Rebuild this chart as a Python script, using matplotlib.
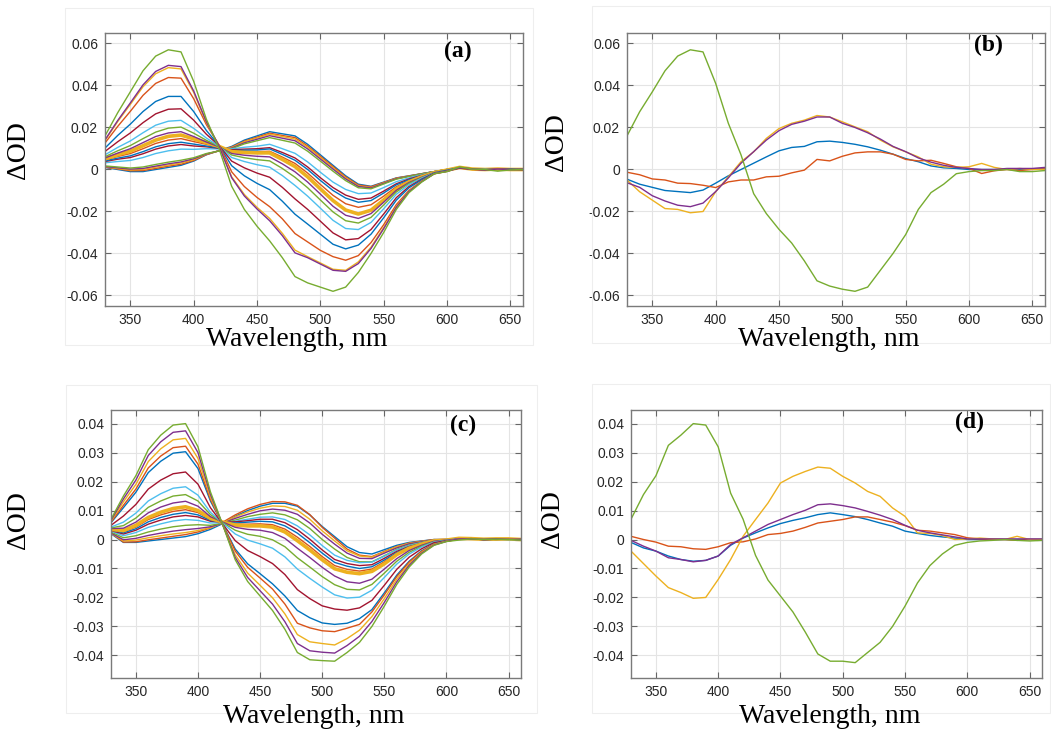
import numpy as np
import matplotlib
matplotlib.use("Agg")
from matplotlib import pyplot as plt
from matplotlib.patches import Rectangle

plt.rcParams['axes.unicode_minus'] = False

# wavelength grid, nm
wavelength = [330, 340, 350, 360, 370, 380, 390, 400, 410, 420, 430, 440, 450, 460, 470, 480, 490,
              500, 510, 520, 530, 540, 550, 560, 570, 580, 590, 600, 610, 620, 630, 640, 650, 660]

# MATLAB default colour order
colors = ['#0072BD', '#D95319', '#EDB120', '#7E2F8E', '#77AC30', '#4DBEEE', '#A2142F']

# ---- panel (a), dOD in units of 1e-3 ----
a01 = [1, 0, -1, -1, 0, 1, 2, 4, 7, 9, 11, 14, 16, 18, 17, 16, 12, 7, 2, -3, -7, -8, -6, -4, -3, -2, -1, 0, 0.6, 0.2, 0, 0.3, -0.2, 0]
a02 = [1.1, 0.3, -0.6, -0.5, 0.5, 1.6, 2.5, 4.3, 7.1, 8.9, 10.7, 13.5, 15.4, 17.3, 16.2, 15.2, 11.2, 6.3, 1.4, -3.5, -7.4, -8.2, -6.2, -4.1, -3.1, -2.0, -1.0, 0, 0.8, 0.1, -0.2, 0.2, 0, -0.1]
a03 = [1.3, 0.5, -0.2, 0.0, 1.1, 2.1, 3.1, 4.7, 7.3, 8.9, 10.5, 13.2, 15.0, 16.8, 15.7, 14.5, 10.6, 5.7, 0.8, -4.0, -7.8, -8.6, -6.4, -4.3, -3.1, -2.1, -1.0, 0, 1.0, 0.3, 0, 0.1, 0.2, 0]
a04 = [1.4, 0.8, 0.2, 0.5, 1.6, 2.7, 3.6, 5.1, 7.4, 8.9, 10.2, 12.7, 14.4, 16.1, 14.9, 13.7, 9.8, 5.0, 0.2, -4.5, -8.1, -8.8, -6.6, -4.4, -3.2, -2.1, -1.0, 0, 0.7, 0, 0.2, -0.1, 0.1, 0.2]
a05 = [1.7, 1.2, 0.7, 1.2, 2.4, 3.5, 4.4, 5.6, 7.6, 8.8, 9.9, 12.2, 13.7, 15.2, 13.9, 12.6, 8.7, 4.0, -0.8, -5.3, -8.7, -9.2, -6.9, -4.6, -3.3, -2.1, -1.0, 0, 1.2, 0.2, -0.3, 0, -0.2, 0]
a06 = [3.2, 3.8, 4.3, 5.7, 7.6, 8.9, 9.7, 9.6, 9.9, 9.8, 9.8, 10.6, 11.1, 12.0, 9.9, 7.7, 3.6, -1.3, -6.0, -9.5, -11.5, -11.2, -8.6, -5.8, -4.0, -2.5, -1.1, -0.1, 0.9, 0.3, 0, 0.2, -0.1, 0.1]
a07 = [3.8, 4.9, 5.7, 7.5, 9.7, 11.2, 11.9, 11.2, 10.8, 10.1, 9.4, 9.7, 9.9, 10.4, 8.1, 5.5, 1.2, -3.9, -8.6, -12.2, -14.2, -13.6, -10.3, -6.8, -4.5, -2.8, -1.2, -0.2, 0.8, 0.2, -0.2, 0.3, 0, -0.2]
a08 = [4.1, 5.4, 6.5, 8.5, 10.8, 12.3, 13.0, 12.1, 11.2, 10.3, 9.0, 9.2, 9.3, 9.8, 7.2, 4.4, 0.0, -5.2, -10.0, -13.6, -15.6, -14.8, -11.2, -7.3, -4.9, -3.0, -1.3, -0.2, 0.7, 0.1, 0.1, 0.2, -0.1, 0]
a09 = [4.6, 6.2, 7.6, 9.9, 12.4, 14.0, 14.7, 13.3, 12.0, 10.6, 8.8, 8.6, 8.5, 8.7, 5.9, 2.9, -1.7, -7.1, -12.3, -16.3, -18.0, -16.8, -12.7, -8.2, -5.4, -3.3, -1.4, -0.2, 0.9, 0.3, -0.1, 0.1, 0.1, -0.1]
a10 = [5.1, 7.0, 8.7, 11.3, 14.0, 15.8, 16.4, 14.6, 12.8, 11.0, 8.5, 8.1, 7.9, 7.9, 4.8, 1.4, -3.5, -9.2, -14.8, -19.3, -21.2, -19.4, -14.5, -9.3, -5.9, -3.5, -1.5, -0.3, 1.0, 0.2, 0, 0.2, 0, 0]
a11 = [5.5, 7.8, 9.9, 12.8, 15.7, 17.4, 18.0, 15.7, 13.1, 10.8, 7.6, 6.8, 6.3, 6.0, 2.7, -1.1, -6.0, -11.7, -17.5, -21.8, -23.3, -21.0, -15.6, -9.9, -6.2, -3.7, -1.5, -0.3, 0.8, 0.1, -0.2, 0.2, -0.1, 0.1]
a12 = [6.1, 8.9, 11.4, 14.7, 17.8, 19.7, 20.2, 17.3, 13.9, 11.0, 6.9, 5.6, 4.7, 4.1, 0.5, -3.7, -8.7, -14.5, -20.2, -24.4, -25.5, -22.8, -16.9, -10.7, -6.6, -3.9, -1.6, -0.3, 1.1, 0.3, 0, -0.1, 0.2, 0]
a13 = [7.0, 10.5, 13.6, 17.5, 21.1, 23.0, 23.4, 19.6, 15.0, 11.1, 5.7, 3.8, 2.3, 1.1, -2.9, -7.6, -12.7, -18.4, -24.2, -28.1, -28.6, -25.2, -18.7, -11.8, -7.2, -4.1, -1.6, -0.4, 0.9, 0.2, 0.1, 0.2, -0.2, 0]
a14 = [8.6, 13.2, 17.4, 22.3, 26.5, 28.7, 28.9, 23.5, 16.8, 11.4, 4.0, 0.8, -1.7, -3.7, -8.5, -14.0, -19.0, -24.6, -30.2, -33.5, -32.9, -28.6, -21.2, -13.4, -8.1, -4.6, -1.7, -0.5, 0.7, 0.1, -0.1, 0.3, 0, -0.2]
a15 = [10.2, 16.2, 21.6, 27.6, 32.4, 34.8, 34.8, 27.6, 18.6, 11.4, 1.8, -3.0, -6.6, -9.6, -15.1, -21.3, -26.0, -30.8, -35.6, -37.8, -36.0, -30.8, -23.0, -14.6, -8.7, -4.9, -1.8, -0.6, 1.0, 0.2, 0, 0.1, 0.1, 0]
a16 = [12.6, 20.5, 27.7, 35.3, 41.0, 43.8, 43.5, 33.7, 21.4, 11.7, -1.1, -8.1, -13.3, -17.7, -23.5, -30.5, -34.5, -38.5, -41.5, -43.2, -41.0, -34.8, -26.3, -16.7, -9.9, -5.5, -2.0, -0.8, 0.9, 0.3, -0.1, 0.2, -0.1, 0]
a17 = [13.8, 22.8, 31.0, 39.4, 45.6, 48.5, 47.9, 36.7, 22.4, 11.2, -3.5, -11.9, -18.0, -23.3, -30.4, -38.4, -41.5, -44.5, -47.5, -48.0, -44.0, -37.0, -27.7, -17.6, -10.3, -5.7, -2.0, -0.9, 1.1, 0.2, 0, 0.1, -0.1, 0]
a18 = [14.1, 23.3, 31.7, 40.3, 46.7, 49.6, 49.0, 37.4, 22.8, 11.2, -3.9, -12.6, -18.8, -24.4, -31.5, -39.7, -42.0, -45.0, -48.0, -48.5, -44.8, -37.6, -28.2, -18.0, -10.5, -5.8, -2.0, -0.9, 0.8, 0.3, -0.2, 0.2, 0, 0.1]
a19 = [16, 27, 37, 47, 54, 57, 56, 42, 24, 10, -8, -19, -27, -34, -42, -51, -54, -56, -58, -56, -49, -40, -30, -19, -11, -6, -2, -1, 1.2, 0.2, 0, -0.8, -0.2, 0]

# ---- panel (b) ----
b_blue = [-4.6, -7, -8.5, -10, -10.5, -11, -9.8, -6.5, -3, 0, 3, 6, 8.9, 10.5, 11, 13.2, 13.5, 12.9, 12, 10.8, 9.2, 7.3, 5.2, 3.7, 1.7, 0.8, 0.5, 0, 0, 0, 0.2, 0, 0.2, 0.3]
b_orange = [-1.3, -2.5, -4.5, -5, -6.5, -6.7, -7.5, -8.6, -5.9, -5, -5, -3.5, -3.2, -1.6, -0.3, 4.8, 4.1, 6.3, 7.9, 8.4, 8.4, 7.3, 4.8, 4.1, 4.4, 2.9, 1.3, 0.5, -1.9, -0.6, 0, -0.5, 0, 0.3]
b_yellow = [-5, -10.6, -14.6, -18.6, -19, -20.6, -20, -10.6, -3.5, 3.7, 8.4, 14.8, 19.5, 22, 23.5, 25.7, 25, 22.7, 20.3, 18, 14, 10.8, 8.4, 6, 2.5, 1.3, 1, 1.3, 2.9, 1, 0, 0.5, 0, 0]
b_purple = [-6.3, -8.5, -12.5, -15, -17, -17.7, -16, -10.5, -4, 3, 8.5, 14, 18.5, 21.5, 23, 25, 25, 22, 20, 17.5, 14.5, 11, 8.5, 5.5, 3.5, 2, 1, 0.5, 0, 0, 0.5, 0.5, 0.5, 1]
b_green = [16, 27.5, 37, 47, 54, 57, 56, 41, 22, 7, -11.5, -21, -28.5, -35, -43.5, -53, -55.5, -57, -58, -56, -48, -40, -31, -19, -11, -7, -2, -1, -0.5, -0.5, 0, -1, -1, -0.5]

# ---- panel (c) ----
c01 = [2, -1, -1, -0.5, 0, 0.5, 1, 2, 3.5, 5.5, 8, 10, 11.5, 12.5, 12.5, 11.5, 8.5, 4.5, 1, -2.5, -4.5, -5, -3.5, -2, -1, -0.5, 0, 0, 0.2, 0.3, 0, 0.2, -0.1, 0]
c02 = [2.3, -0.9, -0.8, -0.1, 0.5, 1.1, 1.7, 2.6, 4.0, 6.0, 8.5, 10.6, 12.1, 13.1, 13.0, 11.8, 8.6, 4.2, 0.5, -3.3, -5.4, -5.9, -4.1, -2.4, -1.2, -0.6, 0, 0, 0.3, 0.1, 0.2, 0, 0.1, -0.1]
c03 = [2.2, -0.5, -0.2, 0.6, 1.3, 1.9, 2.4, 3.1, 4.1, 5.7, 7.8, 9.5, 10.8, 11.6, 11.4, 10.1, 7.0, 3.0, -0.5, -3.9, -5.7, -6.1, -4.3, -2.5, -1.3, -0.7, -0.1, 0, 0.4, 0.2, 0, 0.3, 0.2, 0]
c04 = [2.3, -0.1, 0.4, 1.4, 2.2, 2.9, 3.4, 3.8, 4.4, 5.6, 7.3, 8.7, 9.9, 10.5, 10.1, 8.7, 5.7, 1.8, -1.6, -4.7, -6.5, -6.6, -4.7, -2.9, -1.5, -0.8, -0.1, 0, 0.2, 0.3, 0.1, 0, 0.1, 0]
c05 = [2.6, 0.6, 1.3, 2.6, 3.6, 4.4, 4.9, 5.1, 4.9, 5.6, 6.7, 7.9, 8.7, 9.2, 8.5, 6.8, 3.8, 0.0, -3.3, -6.2, -7.7, -7.7, -5.6, -3.4, -1.9, -1.0, -0.2, -0.1, 0.3, 0.2, 0, 0.1, 0.2, -0.1]
c06 = [2.9, 1.3, 2.4, 4.2, 5.4, 6.4, 6.9, 6.6, 5.7, 5.8, 6.3, 7.0, 7.7, 7.8, 6.9, 4.7, 1.6, -2.1, -5.4, -7.2, -8.0, -7.8, -5.8, -3.6, -2.1, -1.1, -0.3, -0.1, 0.2, 0.3, 0.1, 0.2, 0, 0]
c07 = [3.1, 1.9, 3.2, 5.3, 6.7, 7.8, 8.3, 7.8, 6.3, 6.0, 6.1, 6.5, 7.0, 7.0, 5.8, 3.4, 0.1, -3.6, -6.9, -8.3, -9.0, -8.7, -6.5, -4.1, -2.4, -1.3, -0.4, -0.1, 0.3, 0.2, 0, 0.1, 0.1, 0]
c08 = [3.3, 2.3, 3.7, 6.1, 7.6, 8.7, 9.3, 8.5, 6.6, 6.0, 5.7, 6.0, 6.3, 6.1, 4.7, 2.2, -1.1, -4.7, -7.9, -9.2, -10.0, -9.4, -7.1, -4.5, -2.6, -1.4, -0.4, -0.1, 0.2, 0.3, 0.1, 0, 0.2, 0]
c09 = [3.4, 2.7, 4.3, 6.9, 8.5, 9.7, 10.3, 9.3, 6.9, 6.0, 5.3, 5.3, 5.4, 5.1, 3.6, 0.8, -2.4, -5.9, -9.0, -10.3, -10.9, -10.2, -7.7, -4.8, -2.8, -1.5, -0.5, -0.2, 0.3, 0.2, 0, 0.2, 0.1, 0]
c10 = [3.5, 3.1, 4.9, 7.6, 9.4, 10.7, 11.3, 10.0, 7.3, 6.0, 5.0, 4.7, 4.7, 4.3, 2.6, -0.4, -3.6, -7.0, -10.1, -11.3, -11.8, -11.0, -8.4, -5.2, -3.0, -1.6, -0.5, -0.2, 0.4, 0.3, 0.1, 0.2, 0.2, 0]
c11 = [3.8, 3.9, 6.0, 9.2, 11.2, 12.6, 13.2, 11.5, 7.9, 6.0, 4.2, 3.5, 3.2, 2.4, 0.4, -3.0, -6.2, -9.6, -12.6, -14.6, -15.1, -13.7, -10.2, -6.6, -3.8, -2.0, -0.6, -0.2, 0.2, 0.3, 0, 0.1, 0.1, 0]
c12 = [4.0, 4.8, 7.4, 11.1, 13.3, 15.0, 15.5, 13.3, 8.6, 5.8, 3.2, 1.8, 1.1, -0.1, -2.5, -6.3, -9.5, -12.8, -15.6, -17.2, -17.4, -15.5, -11.6, -7.5, -4.4, -2.3, -0.8, -0.3, 0.2, 0.2, 0.1, 0, 0.1, 0]
c13 = [4.3, 6.0, 9.1, 13.3, 15.8, 17.7, 18.2, 15.3, 9.4, 5.6, 1.9, -0.2, -1.5, -3.0, -6.0, -10.2, -13.4, -16.4, -19.1, -20.2, -19.9, -17.5, -13.1, -8.5, -5.0, -2.6, -0.9, -0.3, 0.3, 0.2, 0, 0.1, 0, 0]
c14 = [4.9, 8.1, 12.1, 17.4, 20.5, 22.7, 23.3, 19.1, 11.0, 5.3, -0.4, -3.8, -5.9, -8.3, -12.1, -17.3, -20.4, -22.9, -24.0, -24.4, -23.6, -21.0, -15.8, -10.3, -6.1, -3.2, -1.1, -0.4, 0.2, 0.2, 0, 0.1, 0.1, 0]
c15 = [5.8, 11.0, 16.3, 23.1, 27.0, 29.8, 30.3, 24.5, 13.3, 5.1, -3.3, -8.4, -11.8, -15.3, -19.5, -24.5, -27.0, -28.8, -29.3, -28.9, -27.3, -24.2, -18.4, -12.3, -7.5, -3.9, -1.5, -0.5, 0.2, 0.3, 0, 0.1, 0.1, 0]
c16 = [6.0, 11.8, 17.4, 24.7, 28.8, 31.7, 32.2, 26.0, 13.9, 5.1, -4.0, -9.6, -13.3, -17.1, -22.3, -28.9, -30.5, -31.5, -31.8, -30.6, -29.3, -25.0, -19.1, -12.8, -7.8, -4.1, -1.6, -0.6, 0.2, 0.2, 0, 0.1, 0.2, 0]
c17 = [6.3, 13.0, 19.0, 26.9, 31.3, 34.4, 34.9, 28.0, 14.7, 4.9, -5.3, -11.6, -15.8, -20.1, -25.7, -32.8, -35.3, -35.9, -36.4, -34.2, -31.3, -26.6, -20.4, -13.7, -8.4, -4.4, -1.7, -0.6, 0.2, 0.3, 0.1, 0, 0.3, 0]
c18 = [6.6, 14.0, 20.5, 29.0, 33.7, 37.0, 37.5, 30.0, 15.6, 5.0, -6.2, -13.1, -17.7, -22.3, -28.4, -35.9, -38.4, -38.9, -39.2, -36.6, -33.4, -28.3, -21.7, -14.6, -8.9, -4.7, -1.9, -0.65, 0.2, 0.2, 0, 0.1, 0.1, 0]
c19 = [7, 15, 22, 31, 36, 39.5, 40, 32, 16.5, 5, -7, -14.5, -19.5, -24.5, -31, -39, -41.5, -41.8, -42, -39, -35.5, -30, -23, -15.5, -9.5, -5, -2, -0.7, -0.2, 0.2, 0, 0.1, 0, -0.2]

# ---- panel (d) ----
d_blue = [-1, -2.9, -4, -5.7, -6.9, -7.5, -7.2, -5.7, -2, 0.5, 2.3, 4, 5.5, 6.6, 7.5, 8.6, 9.2, 8.6, 7.9, 6.9, 5.7, 4.6, 2.9, 2.1, 1.4, 0.9, 0.5, 0, 0, 0, 0, 0, 0, 0]
d_orange = [1.1, 0, -0.9, -2.3, -2.5, -3.2, -3.4, -2.5, -1.1, -0.8, 0.2, 1.7, 2.1, 2.9, 4.2, 5.7, 6.3, 6.9, 7.8, 7.8, 6.9, 6.0, 4.8, 3.2, 2.9, 2.3, 1.7, 0.6, 0.2, 0, 0, -0.3, 0, 0]
d_yellow = [-4, -8.3, -12.6, -16.6, -18.3, -20.3, -20, -13.8, -6.9, 1.1, 6.9, 12.6, 19.5, 21.8, 23.5, 25, 24.6, 21.8, 19.5, 16.6, 14.9, 10.9, 8, 2.3, 2.1, 1.4, 0, 0.2, 0.5, 0.2, 0, 1.1, 0, 0]
d_purple = [-0.3, -2.3, -4, -6.3, -6.9, -7.7, -7.2, -5.7, -1.7, 0.6, 2.9, 5.2, 6.9, 8.6, 10.1, 12.0, 12.3, 11.7, 10.9, 9.7, 8.4, 6.9, 4.9, 3.2, 2.3, 1.6, 0.9, 0.2, 0.2, 0.2, 0.2, 0.2, 0.2, 0.2]
d_green = [7, 15.5, 22, 32.5, 36, 40, 39.5, 32, 16, 7, -5.5, -14, -19.5, -25, -32, -39.5, -42, -42, -42.5, -39, -35.5, -30, -23, -15, -9, -5, -2, -1, -0.5, -0.3, 0, -0.3, -0.5, -0.3]

traces_a = [a01, a02, a03, a04, a05, a06, a07, a08, a09, a10, a11, a12, a13, a14, a15, a16, a17, a18, a19]
traces_b = [b_blue, b_orange, b_yellow, b_purple, b_green]
traces_c = [c01, c02, c03, c04, c05, c06, c07, c08, c09, c10, c11, c12, c13, c14, c15, c16, c17, c18, c19]
traces_d = [d_blue, d_orange, d_yellow, d_purple, d_green]

yticks_top = [-0.06, -0.04, -0.02, 0, 0.02, 0.04, 0.06]
ylabels_top = ['-0.06', '-0.04', '-0.02', '0', '0.02', '0.04', '0.06']
yticks_bot = [-0.04, -0.03, -0.02, -0.01, 0, 0.01, 0.02, 0.03, 0.04]
ylabels_bot = ['-0.04', '-0.03', '-0.02', '-0.01', '0', '0.01', '0.02', '0.03', '0.04']
xticks = [350, 400, 450, 500, 550, 600, 650]

W, H = 1051, 730
serif = 'Liberation Serif'


def px_box(l, t, r, b):
    return [l / W, 1 - b / H, (r - l) / W, (b - t) / H]


def draw_panel(ax, traces, yticks, ylabels, ylim, thick=None):
    for i, tr in enumerate(traces):
        lw = 2.6 if i == thick else 1.0
        ax.plot(wavelength, np.array(tr) / 1000, color=colors[i % 7], lw=lw)
    ax.set_xlim(330, 660)
    ax.set_ylim(*ylim)
    ax.set_xticks(xticks)
    ax.set_xticklabels([str(x) for x in xticks])
    ax.set_yticks(yticks)
    ax.set_yticklabels(ylabels)
    ax.grid(True, color='#e4e4e4', lw=0.8)
    ax.set_axisbelow(True)
    ax.tick_params(direction='in', length=4, width=0.8, color='#666666', labelcolor='#262626',
                   labelsize=10, top=True, right=True, pad=5)
    for s in ax.spines.values():
        s.set_color('#7a7a7a')
        s.set_linewidth(1.0)
    for t in ax.get_xticklabels() + ax.get_yticklabels():
        t.set_fontfamily('Liberation Sans')


fig = plt.figure(figsize=(W / 100, H / 100), dpi=100)

# faint frames around each panel
for l, t, r, b in [(65, 8, 533, 345), (592, 6, 1050, 343), (66, 385, 537, 713), (592, 384, 1050, 713)]:
    fig.patches.append(Rectangle((l / W, 1 - b / H), (r - l) / W, (b - t) / H, transform=fig.transFigure,
                                 fill=False, ec='#eeeeee', lw=0.8))

ax_a = fig.add_axes(px_box(105, 33, 523, 306))
ax_b = fig.add_axes(px_box(627, 33, 1045, 306))
ax_c = fig.add_axes(px_box(111, 410, 521, 678))
ax_d = fig.add_axes(px_box(631, 410, 1042, 678))

draw_panel(ax_a, traces_a, yticks_top, ylabels_top, (-0.065, 0.065), thick=9)
draw_panel(ax_b, traces_b, yticks_top, ylabels_top, (-0.065, 0.065))
draw_panel(ax_c, traces_c, yticks_bot, ylabels_bot, (-0.0478, 0.0447), thick=9)
draw_panel(ax_d, traces_d, yticks_bot, ylabels_bot, (-0.0478, 0.0447))

# axis titles and panel letters
for x, y in [(18, 150), (557, 142), (18, 520), (552, 519)]:
    fig.text(x / W, 1 - y / H, 'ΔOD', rotation=90, ha='center', va='center', family=serif, fontsize=20)
for x, y in [(297, 346), (829, 346), (314, 723), (830, 723)]:
    fig.text(x / W, 1 - y / H, 'Wavelength, nm', ha='center', va='baseline', family=serif, fontsize=20)
for x, y, s in [(458, 51, '(a)'), (988, 45, '(b)'), (463, 425, '(c)'), (969, 422, '(d)')]:
    fig.text(x / W, 1 - y / H, s, ha='center', va='center', family=serif, fontsize=17, fontweight='bold')

fig.savefig('out.png', dpi=100)
